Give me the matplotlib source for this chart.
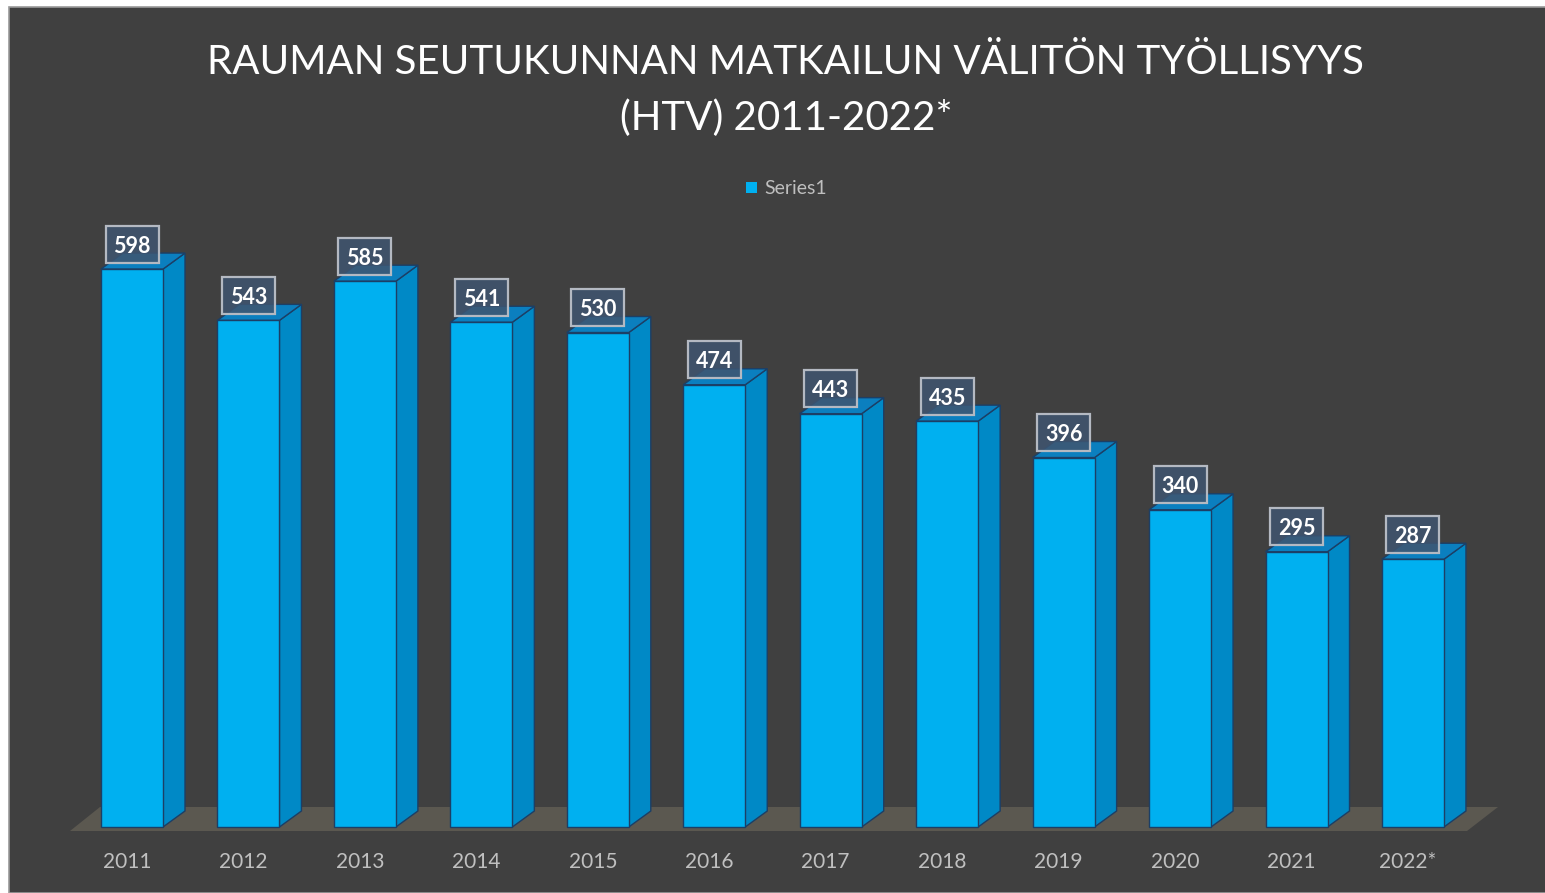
import matplotlib.pyplot as plt
from matplotlib.patches import Polygon, Rectangle

years = ["2011", "2012", "2013", "2014", "2015", "2016",
         "2017", "2018", "2019", "2020", "2021", "2022*"]
htv = [598, 543, 585, 541, 530, 474, 443, 435, 396, 340, 295, 287]

title = "RAUMAN SEUTUKUNNAN MATKAILUN VÄLITÖN TYÖLLISYYS\n(HTV) 2011-2022*"

W, H = 1545, 893
bg = "#404040"
front_col = "#00b0f0"
side_col = "#0089c6"
top_col = "#0b7fbf"
edge_col = "#1c3f66"

fig = plt.figure(figsize=(W / 100, H / 100), dpi=100)
fig.patch.set_facecolor("white")
fig.patches.append(Rectangle((9 / W, 0), 1, 1 - 7 / H, transform=fig.transFigure,
                             facecolor=bg, edgecolor="#9a9a9a", lw=1.2, zorder=-5))

# axes over the full figure; data units: x = category index, y = value
ax = fig.add_axes([0, 0, 1, 1], zorder=2)
ax.set_facecolor("none")
px_x = 116.45          # pixels per category
px_y = 0.933           # pixels per value unit
x0_px, y0_px = 132, 827
ax.set_xlim(-x0_px / px_x, (W - x0_px) / px_x)
ax.set_ylim(-(H - y0_px) / px_y, y0_px / px_y)
ax.axis("off")

bw = 62 / px_x         # front width
dx = 22 / px_x         # depth offset
dy = 16 / px_y

# floor
floor = Polygon([((70 - x0_px) / px_x, -4 / px_y), ((1467 - x0_px) / px_x, -4 / px_y),
                 ((1498 - x0_px) / px_x, 20 / px_y), ((100 - x0_px) / px_x, 20 / px_y)],
                closed=True, facecolor="#5b5850", edgecolor="none", zorder=1)
ax.add_patch(floor)

box_w, box_h = 53 / px_x, 37 / px_y
for i, v in enumerate(htv):
    l, r = i - bw / 2, i + bw / 2
    side = Polygon([(r, 0), (r + dx, dy), (r + dx, v + dy), (r, v)],
                   facecolor=side_col, edgecolor=edge_col, lw=1, zorder=2)
    top = Polygon([(l, v), (r, v), (r + dx, v + dy), (l + dx, v + dy)],
                  facecolor=top_col, edgecolor=edge_col, lw=1, zorder=2)
    front = Rectangle((l, 0), bw, v, facecolor=front_col, edgecolor=edge_col,
                      lw=1, zorder=3)
    ax.add_patch(side)
    ax.add_patch(top)
    ax.add_patch(front)
    yc = v + 25 / px_y
    ax.add_patch(Rectangle((i - box_w / 2, yc - box_h / 2), box_w, box_h,
                           facecolor="#3f5570", alpha=0.85, edgecolor="none", zorder=4))
    ax.add_patch(Rectangle((i - box_w / 2, yc - box_h / 2), box_w, box_h,
                           facecolor="none", edgecolor="#b4b9c2", lw=1.6, zorder=4))
    ax.text(i, yc, str(v), ha="center", va="center_baseline", fontsize=15.5,
            fontweight="bold", color="white", family="Lato", zorder=5)
    ax.text(i - 5 / px_x, -(862 - y0_px) / px_y, years[i], ha="center", va="center",
            fontsize=15, color="#c0c0c0", family="Lato")

fig.text(786 / W, 1 - 91 / H, title, ha="center", va="center", fontsize=29,
         color="white", family="Lato", linespacing=1.6)

# legend
fig.patches.append(Rectangle((746 / W, 1 - 193 / H), 11 / W, 11 / H,
                             transform=fig.transFigure, facecolor=front_col,
                             edgecolor="none"))
fig.text(764 / W, 1 - 188 / H, "Series1", ha="left", va="center", fontsize=14,
         color="#bfbfbf", family="Lato")

fig.savefig("out.png", dpi=100, facecolor=fig.get_facecolor())
